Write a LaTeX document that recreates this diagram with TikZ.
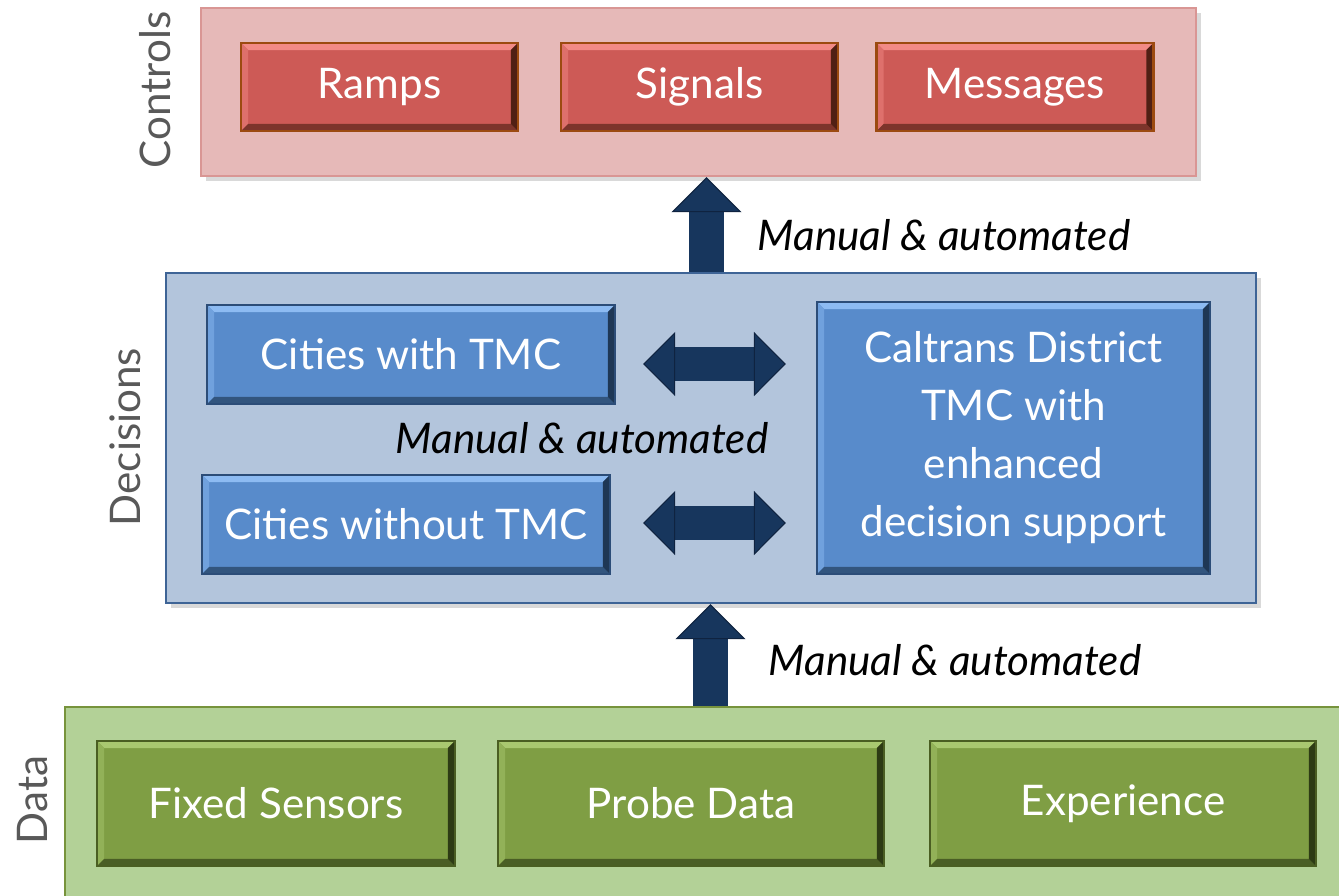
\documentclass[tikz,border=0pt]{standalone}
\usepackage{fontspec}
\setmainfont{Lato}
\usepackage{tikz}
\usetikzlibrary{arrows.meta, shadows, calc}

\definecolor{ctrlbg}{HTML}{E6B9B8}
\definecolor{ctrlline}{HTML}{D99694}
\definecolor{ctrlbox}{HTML}{CD5A56}
\definecolor{ctrllight}{HTML}{F28A86}
\definecolor{ctrldark}{HTML}{3A1508}
\definecolor{ctrledge}{HTML}{9C4A10}
\definecolor{decbg}{HTML}{B3C5DC}
\definecolor{decline}{HTML}{3E6496}
\definecolor{decbox}{HTML}{588BCB}
\definecolor{declight}{HTML}{8DBBF2}
\definecolor{decdark}{HTML}{142840}
\definecolor{decedge}{HTML}{2C4D78}
\definecolor{databg}{HTML}{B3D197}
\definecolor{dataline}{HTML}{77933C}
\definecolor{databox}{HTML}{7F9E44}
\definecolor{datalight}{HTML}{A9C870}
\definecolor{datadark}{HTML}{1E2A0C}
\definecolor{dataedge}{HTML}{4A5E22}
\definecolor{arrowfill}{HTML}{17365D}
\definecolor{arrowedge}{HTML}{0F2340}
\definecolor{sidetext}{HTML}{595959}

\tikzset{
    layer/.style={rectangle, draw=#1, line width=1.3pt, inner sep=0pt,
        drop shadow={shadow xshift=3pt, shadow yshift=-3pt, opacity=0.3}},
    bevel/.style n args={4}{rectangle, draw=#4, line width=1.3pt, fill=#1,
        text=white, inner sep=0pt, font=\fontsize{24}{33}\selectfont,
        path picture={
            \path (path picture bounding box.north west) coordinate (pnw)
                  (path picture bounding box.north east) coordinate (pne)
                  (path picture bounding box.south west) coordinate (psw)
                  (path picture bounding box.south east) coordinate (pse);
            \fill[#2] (pnw) -- (pne) -- ([shift={(-4pt,-4pt)}]pne) -- ([shift={(4pt,-4pt)}]pnw) -- cycle;
            \fill[#2!45!#1] (pnw) -- ([shift={(4pt,-4pt)}]pnw) -- ([shift={(4pt,4pt)}]psw) -- (psw) -- cycle;
            \fill[#3!55!#1] (psw) -- ([shift={(4pt,4pt)}]psw) -- ([shift={(-4pt,4pt)}]pse) -- (pse) -- cycle;
            \fill[#3!85!#1] (pse) -- ([shift={(-4pt,4pt)}]pse) -- ([shift={(-4pt,-4pt)}]pne) -- (pne) -- cycle;
        }},
    sidelabel/.style={rotate=90, text=sidetext, font=\fontsize{24}{29}\selectfont},
    howlabel/.style={font=\fontsize{24}{29}\selectfont\itshape},
    uparrow/.style={arrowfill, line width=0.7cm,
        -{Triangle[width=1.4cm 0 0, length=0.7cm 0 0, line width=0.6pt 0 0, fill=arrowfill, color=arrowedge]}},
    bothway/.style={arrowfill, line width=0.68cm,
        {Triangle[width=1.28cm 0 0, length=0.64cm 0 0, line width=0.6pt 0 0, fill=arrowfill, color=arrowedge]}-{Triangle[width=1.28cm 0 0, length=0.64cm 0 0, line width=0.6pt 0 0, fill=arrowfill, color=arrowedge]}}
}

\begin{document}
\begin{tikzpicture}[x=0.02cm, y=-0.02cm]
    \useasboundingbox (0,0) rectangle (1339,896);
    \clip (0,0) rectangle (1339,896);

    % layers
    \node[layer=ctrlline, fill=ctrlbg, minimum width=19.9cm, minimum height=3.36cm] (controls) at (698.5,92) {};
    \node[layer=decline, fill=decbg, minimum width=21.8cm, minimum height=6.6cm] (decisions) at (711,438) {};
    \node[layer=dataline, fill=databg, minimum width=25.9cm, minimum height=3.96cm] (data) at (712.5,806) {};

    \node[sidelabel] (lblcontrols) at (155,90) {Controls};
    \node[sidelabel] (lbldecisions) at (125,437) {Decisions};
    \node[sidelabel] (lbldata) at (33,800) {Data};

    % controls
    \node[bevel={ctrlbox}{ctrllight}{ctrldark}{ctrledge}, minimum width=5.54cm, minimum height=1.76cm] (ramps) at (379.5,87) {Ramps};
    \node[bevel={ctrlbox}{ctrllight}{ctrldark}{ctrledge}, minimum width=5.54cm, minimum height=1.76cm] (signals) at (699.5,87) {Signals};
    \node[bevel={ctrlbox}{ctrllight}{ctrldark}{ctrledge}, minimum width=5.54cm, minimum height=1.76cm] (messages) at (1015,87) {Messages};

    % decisions
    \node[bevel={decbox}{declight}{decdark}{decedge}, minimum width=8.16cm, minimum height=1.98cm] (citiesw) at (411,354.5) {Cities with TMC};
    \node[bevel={decbox}{declight}{decdark}{decedge}, minimum width=8.16cm, minimum height=1.98cm] (citieswo) at (406,524.5) {Cities without TMC};
    \node[bevel={decbox}{declight}{decdark}{decedge}, minimum width=7.86cm, minimum height=5.44cm, align=center] (caltrans) at (1013.5,438)
        {Caltrans District\\TMC with\\enhanced\\decision support};

    % data
    \node[bevel={databox}{datalight}{datadark}{dataedge}, minimum width=7.16cm, minimum height=2.5cm] (fixed) at (276,803.5) {Fixed Sensors};
    \node[bevel={databox}{datalight}{datadark}{dataedge}, minimum width=7.72cm, minimum height=2.5cm] (probe) at (691,803.5) {Probe Data};
    \node[bevel={databox}{datalight}{datadark}{dataedge}, minimum width=7.72cm, minimum height=2.5cm] (experience) at (1123,803.5) {Experience};

    % arrows
    \draw[uparrow] (decisions.north -| 706.5,0) -- (controls.south -| 706.5,0);
    \draw[uparrow] (data.north -| 710.5,0) -- (decisions.south -| 710.5,0);
    \draw[bothway, shorten <=0.54cm, shorten >=0.6cm] (citiesw.east |- 0,364) -- (caltrans.west |- 0,364);
    \draw[bothway, shorten <=0.64cm, shorten >=0.6cm] (citieswo.east |- 0,523) -- (caltrans.west |- 0,523);

    \node[howlabel] (how1) at (944,235) {Manual \& automated};
    \node[howlabel] (how2) at (582,438) {Manual \& automated};
    \node[howlabel] (how3) at (955,660) {Manual \& automated};
\end{tikzpicture}
\end{document}
